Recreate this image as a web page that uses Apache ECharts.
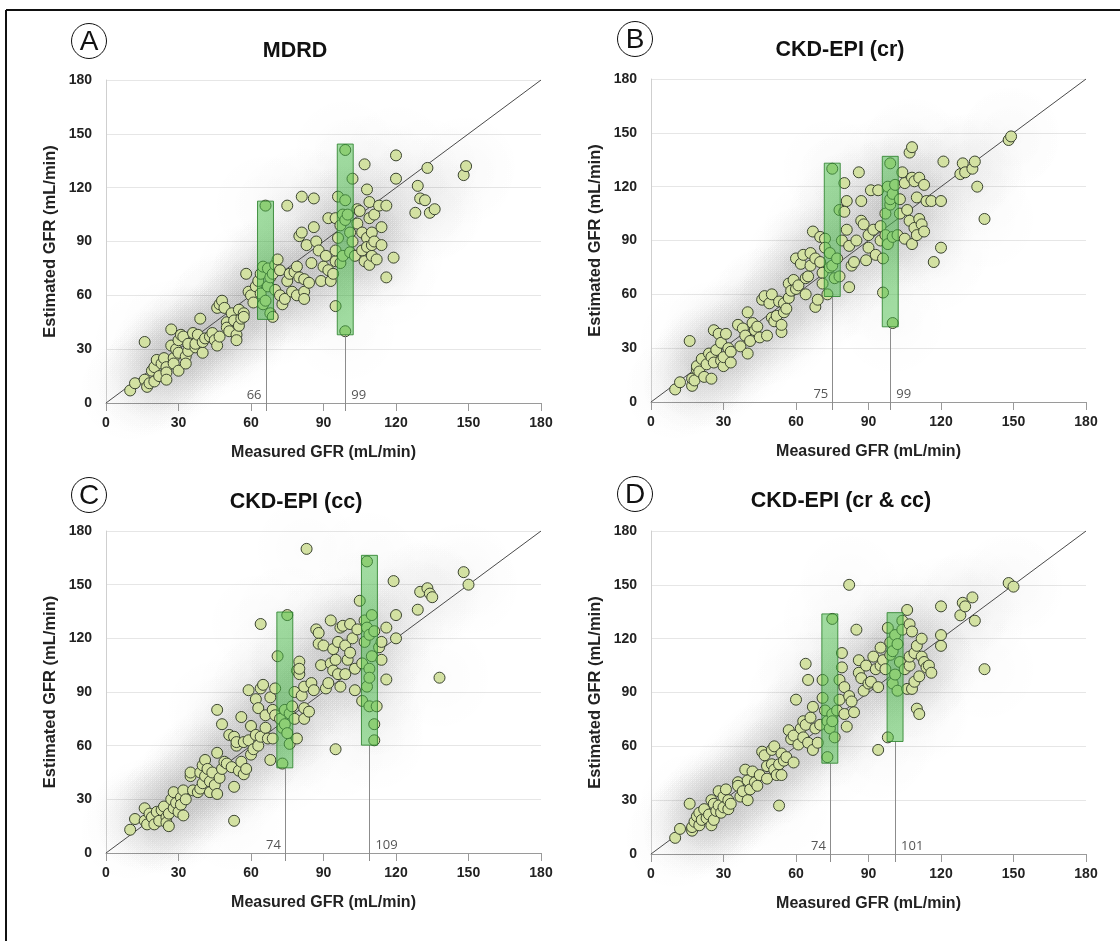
<!DOCTYPE html>
<html><head><meta charset="utf-8">
<script src="https://cdn.jsdelivr.net/npm/echarts@6/dist/echarts.min.js"></script>
<style>html,body{margin:0;padding:0;background:#fff}#c{width:1120px;height:941px}</style>
</head><body><div id="c"></div>
<script>
const panelTitles = ['MDRD', 'CKD-EPI (cr)', 'CKD-EPI (cc)', 'CKD-EPI (cr & cc)'];
const panelLetters = ['A', 'B', 'C', 'D'];
const axisTickValues = [0, 30, 60, 90, 120, 150, 180];
const xAxisName = 'Measured GFR (mL/min)';
const yAxisName = 'Estimated GFR (mL/min)';

// [measured, estimated]
const pointsA = [[10,7],[12,11],[16,34],[16,13],[17,9],[18,11],[19,18],[20,20],[21,24],[20,12],[22,15],[23,22],[24,25],[25,20],[25,17],[25,13],[27,41],[27,32],[28,25],[28,22],[29,30],[30,35],[30,18],[30,28],[31,38],[32,37],[33,26],[33,22],[34,29],[34,33],
[36,39],[37,31],[37,33],[38,38],[39,47],[40,28],[40,34],[41,36],[43,37],[44,39],[45,35],[46,32],[47,37],[46,53],[47,55],[48,57],[49,53],[50,45],[50,42],[51,40],[52,50],[53,46],[54,38],[54,35],[55,52],[55,43],[56,47],[57,50],[57,48],
[58,72],[59,62],[60,60],[61,56],[62,65],[63,68],[64,72],[64,61],[65,55],[65,76],[66,57],[66,110],[67,75],[67,65],[68,70],[68,50],[69,48],[69,72],[70,77],[70,63],[71,80],[72,60],[72,74],[73,55],[74,58],[75,68],[75,110],[76,72],[77,62],[78,73],[79,76],[79,60],[80,93],[80,70],[81,95],[81,115],[82,69],[82,62],[82,58],[83,88],[84,67],[85,78],[86,114],[86,98],[87,90],[88,85],[89,68],[90,76],[91,82],[92,103],[92,74],[93,68],[94,72],[95,103],[95,79],[95,85],[95,54],[96,115],[96,92],[97,78],[97,99],[98,82],[98,105],[99,102],[99,141],[99,113],[99,40],[100,105],[101,95],[101,84],[102,125],[102,90],[103,82],[104,100],[104,108],[105,107],[106,85],[106,95],[107,133],[107,79],[108,92],[108,119],[108,87],[109,112],[109,103],[109,77],[110,95],[110,82],[110,88],[111,90],[111,105],[112,80],[113,110],[114,98],[114,88],[116,110],[116,70],[119,81],[120,138],[120,125],[128,106],[129,121],[130,114],[132,113],[133,131],[134,106],[136,108],[148,127],[149,132]];

const pointsB = [[10,7],[12,11],[16,34],[17,9],[17,13],[18,12],[19,18],[19,20],[20,17],[21,24],[22,14],[23,21],[24,27],[25,13],[25,25],[26,40],[26,22],[27,29],[28,38],[29,33],[29,23],[30,20],[30,25],[31,38],[32,30],[33,28],[33,22],
[36,43],[37,31],[38,41],[39,37],[40,50],[40,27],[41,34],[42,44],[43,40],[44,42],[45,36],[46,57],[47,59],[48,37],[49,55],[50,60],[50,47],[51,45],[52,48],[53,56],[54,39],[54,43],[55,55],[55,50],[56,52],[57,58],[57,66],[58,62],[59,68],[60,80],[60,63],[61,65],[62,77],[63,82],[64,69],[64,60],[65,70],[66,83],[66,76],[67,95],[68,80],[68,53],[69,57],[70,92],[70,78],[71,72],[71,66],[72,91],[72,86],[73,60],[74,75],[74,83],[75,130],[75,76],[76,69],[77,80],[78,107],[78,70],[79,90],[80,122],[80,106],[81,112],[81,96],[82,87],[82,64],[83,76],[84,78],[85,90],[86,128],[87,101],[87,112],[88,99],[89,79],[90,93],[90,86],[91,118],[92,96],[93,82],[94,118],[95,98],[95,90],[96,61],[96,80],[97,105],[97,93],[98,88],[98,120],[99,133],[99,110],[99,113],[100,116],[100,44],[100,92],[101,121],[102,93],[103,105],[103,113],[104,128],[105,122],[105,91],[106,107],[107,101],[107,139],[108,142],[108,125],[108,88],[109,123],[109,97],[110,114],[110,93],[111,102],[111,125],[112,99],[113,121],[113,95],[114,112],[116,112],[117,78],[120,112],[120,86],[121,134],[128,127],[129,133],[130,128],[133,130],[134,134],[135,120],[138,102],[148,146],[149,148]];

const pointsC = [[10,13],[12,19],[16,25],[16,18],[17,16],[18,22],[19,20],[20,16],[21,23],[22,18],[23,24],[24,26],[25,20],[25,17],[26,22],[26,15],[27,30],[28,34],[28,25],[29,28],[30,23],[31,31],[31,27],[32,35],[32,21],[33,30],[35,43],[35,45],[36,35],[38,34],[39,45],[39,36],[40,49],[40,39],[41,52],[41,43],[42,47],[43,40],[43,34],[44,45],[45,38],[46,56],[46,80],[46,33],[47,42],[48,72],[48,47],[49,51],[50,50],[51,66],[52,48],[53,65],[53,37],[53,18],[54,60],[54,62],[55,46],[56,76],[56,51],[57,62],[57,44],[58,47],[59,91],[59,63],[60,55],[60,71],[61,58],[62,66],[62,86],[63,81],[63,60],[64,128],[64,92],[64,65],[65,94],[66,70],[66,77],[67,64],[68,87],[68,52],[69,80],[69,64],[70,77],[70,92],[71,110],[72,75],[73,70],[73,50],[74,72],[74,80],[75,133],[75,67],[76,78],[76,61],[77,82],[78,90],[78,75],[79,64],[79,102],[80,107],[80,100],[80,103],[81,88],[82,93],[82,81],[82,75],[83,170],[84,79],[85,95],[86,91],[87,125],[88,123],[88,117],[89,105],[90,116],[91,92],[92,95],[93,130],[93,106],[94,114],[94,102],[95,58],[95,108],[96,118],[96,100],[97,126],[97,93],[98,127],[99,116],[99,100],[100,108],[101,128],[101,112],[102,120],[103,91],[103,103],[104,125],[105,141],[106,85],[106,106],[107,130],[107,118],[108,163],[108,126],[108,93],[109,122],[109,103],[109,98],[109,82],[110,133],[110,110],[111,124],[111,72],[111,63],[112,82],[113,115],[114,118],[114,108],[116,126],[116,97],[119,152],[120,120],[120,133],[129,136],[130,146],[133,148],[134,145],[135,143],[138,98],[148,157],[150,150]];

const pointsD = [[10,9],[12,14],[16,28],[17,13],[17,15],[18,18],[19,21],[20,16],[20,23],[21,19],[22,25],[23,20],[24,22],[25,30],[25,16],[26,19],[26,28],[27,24],[28,35],[28,27],[29,23],[30,32],[30,26],[31,36],[32,25],[32,30],[33,28],[36,40],[36,38],[37,32],[38,35],[39,47],[40,30],[40,41],[41,36],[42,46],[43,40],[44,38],[45,44],[46,57],[47,55],[48,49],[48,42],[50,50],[50,58],[51,60],[51,47],[52,44],[53,27],[53,50],[54,44],[54,56],[55,52],[56,54],[57,69],[58,64],[59,66],[59,51],[60,86],[61,61],[62,70],[63,74],[63,65],[64,106],[64,72],[65,97],[65,62],[66,76],[67,82],[67,58],[68,70],[69,62],[70,72],[71,97],[71,87],[72,80],[73,74],[73,54],[74,70],[75,131],[75,78],[75,74],[76,65],[77,80],[78,97],[78,86],[79,112],[79,104],[80,93],[80,78],[81,71],[82,150],[82,88],[83,85],[84,79],[85,125],[86,108],[86,101],[87,98],[88,91],[89,105],[90,95],[91,96],[92,110],[93,103],[94,93],[94,58],[95,115],[95,105],[96,108],[97,103],[98,126],[98,65],[99,118],[99,111],[100,113],[100,95],[101,122],[101,100],[102,117],[102,91],[103,107],[104,130],[104,125],[105,103],[106,136],[106,92],[107,105],[107,128],[107,110],[108,124],[108,92],[109,112],[109,96],[110,116],[110,81],[111,99],[111,78],[112,120],[112,110],[113,107],[114,104],[115,105],[116,101],[120,138],[120,122],[120,116],[128,133],[129,140],[130,138],[133,143],[134,130],[138,103],[148,151],[150,149]];

// green ranges: [median measured GFR, low estimate, high estimate]
const boxesA = [[66, 46.6, 112.5], [99, 38, 144.3]];
const boxesB = [[75, 58.8, 133.1], [99, 41.9, 136.9]];
const boxesC = [[74, 47.6, 134.7], [109, 60.3, 166.4]];
const boxesD = [[74, 50.6, 133.8], [101, 62.7, 134.5]];

const allPoints = [pointsA, pointsB, pointsC, pointsD];
const allBoxes = [boxesA, boxesB, boxesC, boxesD];
const identityLine = [[0, 0], [180, 180]];

// layout (pixels)
const grids = [
  {left: 106, top: 80, width: 435, height: 323},
  {left: 651, top: 79, width: 435, height: 323},
  {left: 106, top: 531, width: 435, height: 322},
  {left: 651, top: 531, width: 435, height: 323}
];
const letterPos = [[89, 41], [635, 39], [89, 495], [635, 494]];
const titlePos = [[295, 51], [840, 50], [296, 502], [841, 501]];
const HALF_W = 3.3;
const FONT = '"Liberation Sans", Arial, sans-serif';

const chart = echarts.init(document.getElementById('c'));
const option = {
  backgroundColor: '#fff',
  animation: false,
  grid: grids.map(g => Object.assign({outerBoundsMode: 'none', containLabel: false}, g)),
  xAxis: grids.map((g, i) => ({
    gridIndex: i, type: 'value', min: 0, max: 180, interval: 30,
    name: xAxisName, nameLocation: 'middle', nameGap: 42,
    nameTextStyle: {fontFamily: FONT, fontWeight: 'bold', fontSize: 16, color: '#222'},
    axisLine: {show: true, lineStyle: {color: '#9a9a9a', width: 1}},
    axisTick: {show: true, length: 8, lineStyle: {color: '#9a9a9a'}},
    axisLabel: {fontFamily: FONT, fontWeight: 'bold', fontSize: 14, color: '#222', margin: 13},
    splitLine: {show: false}
  })),
  yAxis: grids.map((g, i) => ({
    gridIndex: i, type: 'value', min: 0, max: 180, interval: 30,
    name: yAxisName, nameLocation: 'middle', nameGap: 47,
    nameTextStyle: {fontFamily: FONT, fontWeight: 'bold', fontSize: 16.5, color: '#222'},
    axisLine: {show: true, lineStyle: {color: '#cfcfcf', width: 1}},
    axisTick: {show: false},
    axisLabel: {fontFamily: FONT, fontWeight: 'bold', fontSize: 14, color: '#222', margin: 14},
    splitLine: {show: true, lineStyle: {color: '#e6e6e6', width: 1}}
  })),
  series: [],
  graphic: []
};

allPoints.forEach((pts, i) => {
  // soft grey density halo under the points
  option.series.push({
    type: 'scatter', xAxisIndex: i, yAxisIndex: i, data: pts, silent: true, z: 1,
    symbol: 'circle', symbolSize: 115,
    itemStyle: {color: {type: 'radial', x: 0.5, y: 0.5, r: 0.5, colorStops: [
      {offset: 0, color: 'rgba(0,0,0,0.017)'}, {offset: 0.5, color: 'rgba(0,0,0,0.009)'}, {offset: 1, color: 'rgba(0,0,0,0)'}]}}
  });
  option.series.push({
    type: 'line', xAxisIndex: i, yAxisIndex: i, data: identityLine, silent: true, z: 2,
    symbol: 'none', lineStyle: {color: '#4a4a4a', width: 1}
  });
  option.series.push({
    type: 'scatter', xAxisIndex: i, yAxisIndex: i, data: pts, silent: true, z: 3,
    symbol: 'circle', symbolSize: 11,
    itemStyle: {color: '#d3e1a2', borderColor: '#3b4430', borderWidth: 1, opacity: 1}
  });
  option.series.push({
    type: 'custom', xAxisIndex: i, yAxisIndex: i, data: allBoxes[i], silent: true, z: 4, clip: false,
    renderItem: (params, api) => {
      const x = api.value(0), lo = api.value(1), hi = api.value(2);
      const tl = api.coord([x - HALF_W, hi]);
      const br = api.coord([x + HALF_W, lo]);
      const bottom = api.coord([x, lo]);
      const base = api.coord([x, 0]);
      const left = params.dataIndex === 0;
      return {type: 'group', children: [
        {type: 'line', shape: {x1: Math.round(bottom[0]) + 0.5, y1: bottom[1], x2: Math.round(bottom[0]) + 0.5, y2: base[1] + 8},
         style: {stroke: '#8c8c8c', lineWidth: 1}},
        {type: 'rect', shape: {x: tl[0], y: tl[1], width: br[0] - tl[0], height: br[1] - tl[1]},
         style: {fill: 'rgba(72,190,72,0.5)', stroke: 'rgba(45,130,45,0.85)', lineWidth: 1}},
        {type: 'text', style: {text: String(x), x: left ? bottom[0] - 4 : bottom[0] + 6, y: base[1] - 8,
         align: left ? 'right' : 'left', verticalAlign: 'middle', fill: '#555', font: '13px "Open Sans", sans-serif'}}
      ]};
    }
  });
  option.graphic.push({type: 'circle', shape: {cx: letterPos[i][0], cy: letterPos[i][1], r: 17.5},
    style: {fill: '#fff', stroke: '#111', lineWidth: 1}, silent: true});
  option.graphic.push({type: 'text', x: letterPos[i][0], y: letterPos[i][1] + 1,
    style: {text: panelLetters[i], align: 'center', verticalAlign: 'middle', fill: '#111', font: '28px ' + FONT}, silent: true});
  option.graphic.push({type: 'text', x: titlePos[i][0], y: titlePos[i][1],
    style: {text: panelTitles[i], align: 'center', verticalAlign: 'middle', fill: '#111', font: 'bold 21.5px ' + FONT}, silent: true});
});
option.graphic.push({type: 'line', shape: {x1: 6, y1: 10, x2: 1120, y2: 10}, style: {stroke: '#111', lineWidth: 2}, silent: true});
option.graphic.push({type: 'line', shape: {x1: 6, y1: 10, x2: 6, y2: 941}, style: {stroke: '#111', lineWidth: 2}, silent: true});
chart.setOption(option);
</script></body></html>
